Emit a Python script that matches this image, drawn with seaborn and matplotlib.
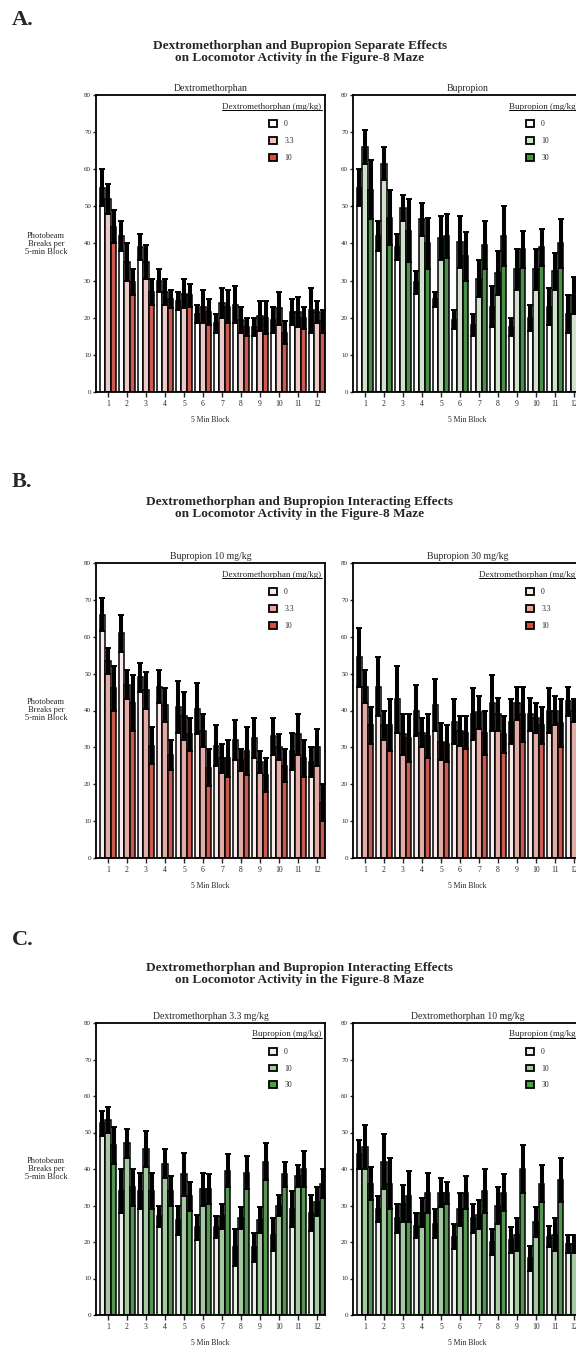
import numpy as np
import pandas as pd
import matplotlib.pyplot as plt
import seaborn as sns
from matplotlib.patches import Patch

sns.set_style('ticks')
plt.rcParams['font.family'] = ['Liberation Serif', 'DejaVu Serif']

blocks = [str(i) for i in range(1, 13)]

# A - separate effects
a_dex_doses = ['0', '3.3', '10']
a_dex_mean = [[55, 42, 39, 30, 24.5, 21, 18.5, 23.5, 17.5, 19.5, 21.5, 22],
              [52, 35, 35, 27, 26.5, 23, 24, 19.5, 20.5, 22.5, 21.5, 21.5],
              [44.5, 29.5, 27, 25, 26, 21.5, 23, 17.5, 20, 16, 20, 19]]
a_dex_sem = [[5, 4, 3.5, 3, 2.5, 2.5, 2.5, 5, 2.5, 3.5, 3.5, 6],
             [4, 5, 4.5, 3.5, 4, 4.5, 4, 3.5, 4, 4.5, 4, 3],
             [4.5, 3.5, 3.5, 2.5, 3, 3.5, 4.5, 2.5, 4.5, 3, 3, 3]]

a_bup_doses = ['0', '10', '30']
a_bup_mean = [[55, 42, 39, 29.5, 25, 19.5, 18, 23, 17.5, 20, 23, 21],
              [66, 61.5, 49.5, 46.5, 41.5, 40.5, 30.5, 32, 33, 33, 32.5, 26],
              [54.5, 47, 43.5, 40, 42, 36.5, 39.5, 42, 38.5, 39, 40, 43]]
a_bup_sem = [[5, 4, 3.5, 3, 2, 2.5, 3, 5.5, 2.5, 3.5, 5, 5],
             [4.5, 4.5, 3.5, 4.5, 6, 7, 5, 6, 5.5, 5.5, 5, 5],
             [8, 7.5, 8.5, 7, 6, 6.5, 6.5, 8, 5, 5, 6.5, 4]]

# B - bupropion fixed, dex varied
b_bup10_mean = [[66, 61, 49, 46.5, 41, 40.5, 30.5, 32, 32.5, 33, 29, 26],
                [53.5, 47, 45.5, 41.5, 38.5, 34.5, 27, 26.5, 26, 30, 33.5, 30],
                [46, 42, 30.5, 28, 33.5, 24.5, 27, 29, 22.5, 25, 27, 15]]
b_bup10_sem = [[4.5, 5, 4, 4.5, 7, 7, 5.5, 5.5, 5.5, 5, 5, 4],
               [3.5, 4, 5, 4.5, 6.5, 4.5, 4, 3, 3, 3.5, 5.5, 5],
               [6, 7.5, 5, 4, 4.5, 5, 5, 6.5, 4.5, 4.5, 5, 5]]
b_bup30_mean = [[54.5, 46.5, 43, 40, 41.5, 37, 39, 42, 37, 39, 40, 42.5],
                [46.5, 36, 33.5, 34, 31.5, 34.5, 39.5, 39, 42, 38, 40, 40],
                [36, 36, 32.5, 33, 31, 34, 34, 33.5, 39, 36, 36.5, 36]]
b_bup30_sem = [[8, 8, 9, 7, 7, 6, 7, 7.5, 6, 4.5, 6, 4],
               [4.5, 4, 5.5, 4, 5, 4, 4.5, 4.5, 4.5, 4, 4, 3],
               [5, 7, 6.5, 6, 5, 4.5, 6, 5, 7.5, 5, 6.5, 5]]

# C - dex fixed, bupropion varied
c_dex33_mean = [[52.5, 34, 34, 27, 26, 24, 24, 18.5, 18.5, 22, 29, 28],
                [53.5, 47, 45.5, 41.5, 38.5, 34.5, 27, 26.5, 26, 30, 38, 31],
                [46.5, 35, 34, 34, 32.5, 34.5, 39.5, 39, 42, 38.5, 40, 36]]
c_dex33_sem = [[3.5, 6, 5, 3, 4, 3.5, 3, 5, 4, 4.5, 5, 5],
               [3.5, 4, 5, 4, 6, 4.5, 3.5, 3, 3.5, 3, 3, 4],
               [5, 5, 5, 4, 4, 4, 4.5, 4.5, 5, 3.5, 5, 4]]
c_dex10_mean = [[44, 29, 26.5, 24.5, 25, 21.5, 26.5, 20, 20.5, 15.5, 21.5, 19.5],
                [46, 42, 30.5, 28, 33.5, 29, 27.5, 30, 22, 25.5, 22, 19.5],
                [36, 36, 32.5, 33.5, 33.5, 33.5, 34, 33.5, 40, 36, 37, 36]]
c_dex10_sem = [[4, 3.5, 4, 3.5, 4, 3.5, 4, 3.5, 3.5, 3.5, 3, 2.5],
               [6, 7.5, 5, 4, 4, 4.5, 4, 5, 4.5, 4, 4.5, 2.5],
               [4.5, 7, 7, 5.5, 3, 4.5, 6, 5, 6.5, 5, 6, 5]]

reds_a = ['#ffffff', '#f2c4c0', '#e04a3c']
greens_a = ['#ffffff', '#cde5c9', '#3f9a3d']
reds_b = ['#fbe9e7', '#eba39c', '#dd4a3d']
greens_c = ['#e9f4e6', '#9fcf98', '#4c9f47']

W, H = 576, 1349
fig = plt.figure(figsize=(W / 100, H / 100), dpi=100)


def px_rect(x0, top, w, bottom):
    return [x0 / W, 1 - bottom / H, w / W, (bottom - top) / H]


def draw(rect, mean, sem, doses, colors, title, leg_title, left):
    ax = fig.add_axes(rect)
    rows = []
    for d, m in zip(doses, mean):
        for b, v in zip(blocks, m):
            rows.append({'block': b, 'dose': d, 'value': v})
    df = pd.DataFrame(rows)
    sns.barplot(data=df, x='block', y='value', hue='dose', order=blocks,
                hue_order=doses, palette=colors, errorbar=None, width=0.88,
                edgecolor='black', linewidth=1.1, legend=False, ax=ax)
    for cont, s in zip(ax.containers, sem):
        xs = [p.get_x() + p.get_width() / 2 for p in cont]
        ys = [p.get_height() for p in cont]
        ax.errorbar(xs, ys, yerr=s, fmt='none', ecolor='black',
                    elinewidth=2.9, capsize=2.4, capthick=1.4)
    ax.set_ylim(0, 80)
    ax.set_xlim(-0.63, 11.42)
    ax.set_yticks(range(0, 81, 10))
    ax.tick_params(axis='y', labelsize=5, length=2.5, width=1, pad=1)
    ax.tick_params(axis='x', labelsize=5.5, length=3.5, width=1, pad=2)
    ax.set_xlabel('')
    ax.set_ylabel('')
    for sp in ax.spines.values():
        sp.set_linewidth(1.3)
        sp.set_color('black')
    ax.set_title(title, fontsize=7, pad=3)
    ax.text(0.5, -0.095, '5 Min Block', transform=ax.transAxes,
            ha='center', va='center', fontsize=5.5)
    handles = [Patch(facecolor=c, edgecolor='black', linewidth=1.3) for c in colors]
    ax.legend(handles, doses, loc='upper left', bbox_to_anchor=(0.755, 0.915),
              frameon=False, fontsize=5.5, handlelength=1.0, handleheight=1.0,
              labelspacing=1.15, handletextpad=1.0, borderpad=0, borderaxespad=0)
    lt = ax.text(0.985, 0.947, leg_title, transform=ax.transAxes,
                 ha='right', va='bottom', fontsize=6.5)
    if left:
        fig.text(46 / W, rect[1] + rect[3] / 2,
                 'Photobeam\nBreaks per\n5-min Block', ha='center', va='center',
                 fontsize=6, linespacing=1.0)
    return ax, lt


underlines = []

# Panel A
fig.text(12 / W, 1 - 20 / H, 'A.', fontsize=16, fontweight='bold', va='center')
fig.text(300 / W, 1 - 52 / H,
         'Dextromethorphan and Bupropion Separate Effects\non Locomotor Activity in the Figure-8 Maze',
         ha='center', va='center', fontsize=9.5, fontweight='bold', linespacing=0.95)
underlines.append(draw(px_rect(96, 95, 229, 392), a_dex_mean, a_dex_sem, a_dex_doses,
                       reds_a, 'Dextromethorphan', 'Dextromethorphan (mg/kg)', True))
underlines.append(draw(px_rect(353, 95, 229, 392), a_bup_mean, a_bup_sem, a_bup_doses,
                       greens_a, 'Bupropion', 'Bupropion (mg/kg)', False))

# Panel B
fig.text(12 / W, 1 - 482 / H, 'B.', fontsize=16, fontweight='bold', va='center')
fig.text(300 / W, 1 - 508 / H,
         'Dextromethorphan and Bupropion Interacting Effects\non Locomotor Activity in the Figure-8 Maze',
         ha='center', va='center', fontsize=9.5, fontweight='bold', linespacing=0.95)
underlines.append(draw(px_rect(96, 563, 229, 858), b_bup10_mean, b_bup10_sem, a_dex_doses,
                       reds_b, 'Bupropion 10 mg/kg', 'Dextromethorphan (mg/kg)', True))
underlines.append(draw(px_rect(353, 563, 229, 858), b_bup30_mean, b_bup30_sem, a_dex_doses,
                       reds_b, 'Bupropion 30 mg/kg', 'Dextromethorphan (mg/kg)', False))

# Panel C
fig.text(12 / W, 1 - 940 / H, 'C.', fontsize=16, fontweight='bold', va='center')
fig.text(300 / W, 1 - 974 / H,
         'Dextromethorphan and Bupropion Interacting Effects\non Locomotor Activity in the Figure-8 Maze',
         ha='center', va='center', fontsize=9.5, fontweight='bold', linespacing=0.95)
underlines.append(draw(px_rect(96, 1023, 229, 1315), c_dex33_mean, c_dex33_sem, a_bup_doses,
                       greens_c, 'Dextromethorphan 3.3 mg/kg', 'Bupropion (mg/kg)', True))
underlines.append(draw(px_rect(353, 1023, 229, 1315), c_dex10_mean, c_dex10_sem, a_bup_doses,
                       greens_c, 'Dextromethorphan 10 mg/kg', 'Bupropion (mg/kg)', False))

# underline the legend titles
fig.canvas.draw()
for ax, lt in underlines:
    bb = lt.get_window_extent()
    inv = ax.transAxes.inverted()
    (x0, y0), (x1, y1) = inv.transform([[bb.x0, bb.y0], [bb.x1, bb.y1]])
    ax.plot([x0, x1], [y0 + 0.003, y0 + 0.003], transform=ax.transAxes,
            color='black', lw=0.7, clip_on=False)

fig.savefig('out.png', dpi=100)
